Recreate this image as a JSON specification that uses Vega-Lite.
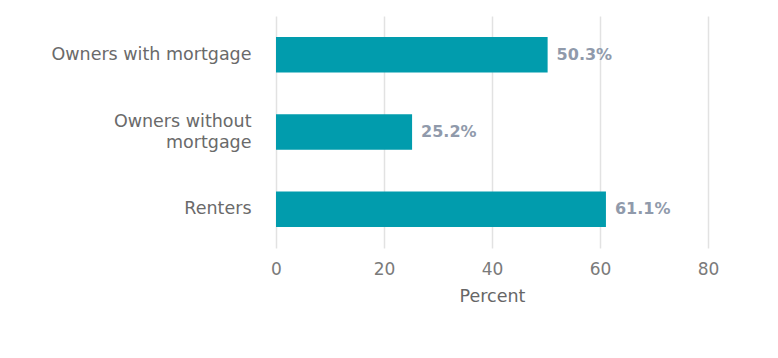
{
  "$schema": "https://vega.github.io/schema/vega-lite/v6.json",
  "width": 432,
  "height": 232,
  "autosize": {"type": "none"},
  "padding": {"left": 276, "top": 16, "right": 70, "bottom": 110},
  "background": "white",
  "config": {"view": {"stroke": null}},
  "data": {
    "values": [
      {"category": "Owners with mortgage", "percent": 50.3, "label": "50.3%"},
      {"category": "Owners without mortgage", "percent": 25.2, "label": "25.2%"},
      {"category": "Renters", "percent": 61.1, "label": "61.1%"}
    ]
  },
  "encoding": {
    "y": {
      "field": "category",
      "type": "nominal",
      "sort": null,
      "scale": {"paddingInner": 0.54, "paddingOuter": 0.27},
      "axis": {
        "title": null,
        "domain": false,
        "ticks": false,
        "tickSize": 0,
        "grid": false,
        "labelFont": "DejaVu Sans",
        "labelFontSize": 17.5,
        "labelColor": "#6a6a6a",
        "labelPadding": 25,
        "labelLimit": 300,
        "labelLineHeight": 21,
        "labelOffset": {"condition": {"test": "datum.value == 'Owners without mortgage'", "value": -10}, "value": 0},
        "labelExpr": "datum.value == 'Owners without mortgage' ? ['Owners without', 'mortgage'] : datum.label"
      }
    },
    "x": {
      "field": "percent",
      "type": "quantitative",
      "scale": {"domain": [0, 80], "nice": false},
      "axis": {
        "values": [0, 20, 40, 60, 80],
        "grid": true,
        "gridColor": "#e2e2e2",
        "gridWidth": 1.5,
        "domain": false,
        "ticks": false,
        "tickSize": 0,
        "labelFlush": false,
        "labelFont": "DejaVu Sans",
        "labelFontSize": 17,
        "labelColor": "#7a7a7a",
        "labelPadding": 13,
        "title": "Percent",
        "titleFont": "DejaVu Sans",
        "titleFontSize": 17.5,
        "titleFontWeight": "normal",
        "titleColor": "#666666",
        "titlePadding": 10
      }
    }
  },
  "layer": [
    {"mark": {"type": "bar", "color": "#019cad"}},
    {
      "mark": {
        "type": "text",
        "align": "left",
        "baseline": "middle",
        "dx": 9,
        "font": "DejaVu Sans",
        "fontSize": 16,
        "fontWeight": "bold",
        "color": "#909aab"
      },
      "encoding": {"text": {"field": "label"}}
    }
  ]
}
